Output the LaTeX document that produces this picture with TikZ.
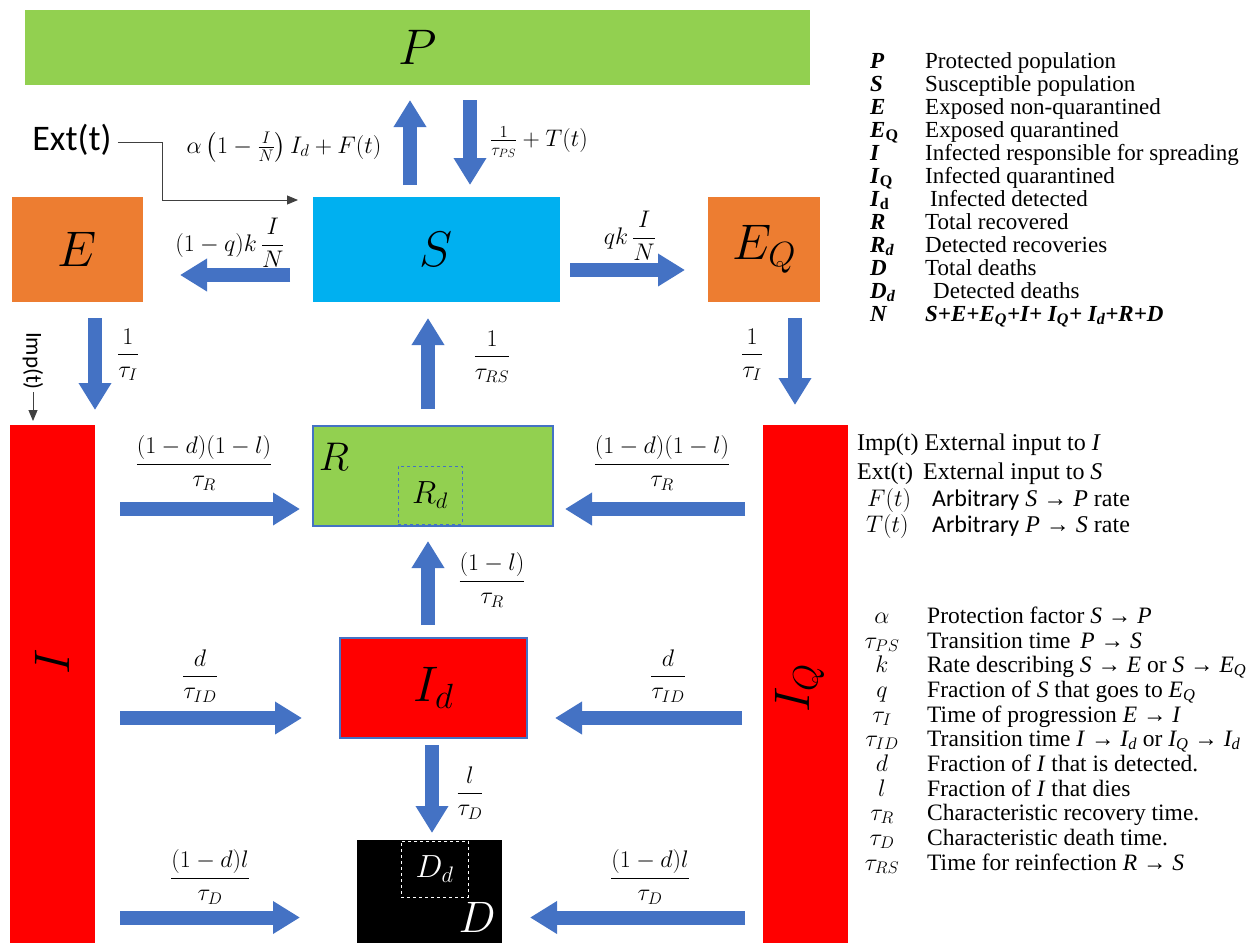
\RequirePackage{fix-cm}
\documentclass[tikz,border=0pt]{standalone}
\usepackage{amsmath}
\usepackage{fontspec}
\setmainfont{Liberation Serif}
\newfontfamily\calibri{Carlito}
\usetikzlibrary{arrows.meta,calc}
\definecolor{pgreen}{HTML}{92D050}
\definecolor{scyan}{HTML}{00B0F0}
\definecolor{eorange}{HTML}{ED7D31}
\definecolor{ired}{HTML}{FF0000}
\definecolor{ablue}{HTML}{4472C4}
\newcommand{\fsz}[1]{\fontsize{#1}{#1}\selectfont}
\newcommand{\ar}{→}
\begin{document}
\begin{tikzpicture}[x=1pt,y=-1pt,
  comp/.style={inner sep=0pt, outer sep=0pt, anchor=center},
  flow/.style={draw=ablue, line width=14pt, -{Triangle[width=31pt,length=27pt]}},
  rate/.style={inner sep=0pt, font=\fsz{24}},
  leg/.style={anchor=base west, inner sep=0pt, font=\fsz{23}},
  legb/.style={anchor=base west, inner sep=0pt, font=\fsz{24}},
  legd/.style={anchor=base west, inner sep=0pt, font=\fsz{23.5}},
  legc/.style={anchor=base, inner sep=0pt, font=\fsz{24}},
  thinarrow/.style={draw=black!75, line width=0.9pt, -{Triangle[width=9pt,length=11pt]}}
]
\path[use as bounding box] (0,0) rectangle (1251,943);

% compartments
\node[comp, fill=pgreen, minimum width=785pt, minimum height=75pt, font=\fsz{50}] (P) at (417.5,47.5) {$P$};
\node[comp, fill=scyan, minimum width=247pt, minimum height=105pt, font=\fsz{50}] (S) at (436.5,249.5) {$S$};
\node[comp, fill=eorange, minimum width=131pt, minimum height=105pt, font=\fsz{50}] (E) at (77.5,249.5) {$E$};
\node[comp, fill=eorange, minimum width=112pt, minimum height=105pt, font=\fsz{50}] (EQ) at (764,249.5) {$E_Q$};
\node[comp, fill=ired, minimum width=85pt, minimum height=518pt] (I) at (52.5,684) {};
\node[rotate=90, inner sep=0pt, font=\fsz{50}] (Ilab) at (52.5,662) {$I$};
\node[comp, fill=ired, minimum width=85pt, minimum height=518pt] (IQ) at (805.5,684) {};
\node[rotate=90, inner sep=0pt, font=\fsz{50}] (IQlab) at (800,688) {$I_Q$};
\node[comp, fill=pgreen, draw=ablue, line width=1.2pt, minimum width=240pt, minimum height=100pt] (R) at (433,476) {};
\node[inner sep=0pt, font=\fsz{40}] (Rlab) at (334,457) {$R$};
\node[draw=ablue, dashed, line width=1pt, minimum width=64pt, minimum height=58pt, inner sep=0pt, font=\fsz{32}] (Rd) at (430,495) {$R_d$};
\node[comp, fill=ired, draw=ablue, line width=1.2pt, minimum width=187pt, minimum height=100pt, font=\fsz{50}] (Id) at (433.5,688) {$I_d$};
\node[comp, fill=black, minimum width=145pt, minimum height=103pt] (D) at (429.5,891.5) {};
\node[draw=white, dashed, line width=1pt, minimum width=67pt, minimum height=56pt, inner sep=0pt, text=white, font=\fsz{32}] (Dd) at (434.5,869) {$D_d$};
\node[inner sep=0pt, text=white, font=\fsz{44}] (Dlab) at (477,917) {$D$};

% external inputs
\node[inner sep=0pt, font=\calibri\fsz{36}] (Ext) at (72,140) {Ext(t)};
\coordinate (extc) at (162,200);
\draw[thinarrow] ($(Ext.east)+(6,2)$) -| (extc) -- ($(S.north west |- extc)+(-15,0)$);
\node[rotate=-90, inner sep=0pt, font=\calibri\fsz{23}] (Imp) at (33,361) {Imp(t)};
\draw[thinarrow, shorten <=2pt, shorten >=4pt] (Imp.east) -- (Imp.east |- I.north);

% flows
\draw[flow, shorten <=12pt, shorten >=15pt] ($(S.north)+(-26.5,0)$) -- ($(S.north |- P.south)+(-26.5,0)$);
\draw[flow, shorten <=15pt, shorten >=12pt] ($(S.north |- P.south)+(33.5,0)$) -- ($(S.north)+(33.5,0)$);
\draw[flow, shorten <=23pt, shorten >=37pt] ($(S.west)+(0,25.5)$) -- ($(S.west -| E.east)+(0,25.5)$);
\draw[flow, shorten <=10pt, shorten >=23pt] ($(S.east)+(0,20.5)$) -- ($(S.east -| EQ.west)+(0,20.5)$);
\draw[flow, shorten <=16pt, shorten >=15pt] ($(E.south)+(17.5,0)$) -- ($(E.south |- I.north)+(17.5,0)$);
\draw[flow, shorten <=16pt, shorten >=20pt] ($(EQ.south)+(31,0)$) -- ($(EQ.south |- IQ.north)+(31,0)$);
\draw[flow, shorten <=17pt, shorten >=16pt] ($(R.north)+(-5,0)$) -- ($(R.north |- S.south)+(-5,0)$);
\draw[flow, shorten <=25pt, shorten >=13pt] ($(R.west -| I.east)+(0,33)$) -- ($(R.west)+(0,33)$);
\draw[flow, shorten <=18pt, shorten >=12pt] ($(R.east -| IQ.west)+(0,33)$) -- ($(R.east)+(0,33)$);
\draw[flow, shorten <=13pt, shorten >=15pt] ($(Id.north)+(-5.5,0)$) -- ($(Id.north |- R.south)+(-5.5,0)$);
\draw[flow, shorten <=25pt, shorten >=38pt] ($(Id.west -| I.east)+(0,30)$) -- ($(Id.west)+(0,30)$);
\draw[flow, shorten <=21pt, shorten >=28pt] ($(Id.east -| IQ.west)+(0,30)$) -- ($(Id.east)+(0,30)$);
\draw[flow, shorten <=7pt, shorten >=7pt] ($(Id.south)+(-1.5,0)$) -- ($(Id.south |- D.north)+(-1.5,0)$);
\draw[flow, shorten <=25pt, shorten >=57pt] ($(D.west -| I.east)+(0,26)$) -- ($(D.west)+(0,26)$);
\draw[flow, shorten <=18pt, shorten >=28pt] ($(D.east -| IQ.west)+(0,26)$) -- ($(D.east)+(0,26)$);

% rates
\node[rate] (rSP) at (284,147) {$\alpha\left(1-\frac{I}{N}\right)I_d+F(t)$};
\node[rate, anchor=west] (rPS) at (490,142) {$\frac{1}{\tau_{PS}}+T(t)$};
\node[rate] (rSE) at (230,243) {$(1-q)k\,\dfrac{I}{N}$};
\node[rate] (rSEQ) at (630,236) {$qk\,\dfrac{I}{N}$};
\node[rate] (rEI) at (128,355) {$\dfrac{1}{\tau_I}$};
\node[rate] (rEQIQ) at (752,355) {$\dfrac{1}{\tau_I}$};
\node[rate] (rRS) at (492,357) {$\dfrac{1}{\tau_{RS}}$};
\node[rate] (rIR) at (204,463) {$\dfrac{(1-d)(1-l)}{\tau_R}$};
\node[rate] (rIQR) at (662,463) {$\dfrac{(1-d)(1-l)}{\tau_R}$};
\node[rate] (rIdR) at (492,580) {$\dfrac{(1-l)}{\tau_R}$};
\node[rate] (rIId) at (200,676) {$\dfrac{d}{\tau_{ID}}$};
\node[rate] (rIQId) at (668,676) {$\dfrac{d}{\tau_{ID}}$};
\node[rate] (rIdD) at (470,793) {$\dfrac{l}{\tau_D}$};
\node[rate] (rID) at (210,877) {$\dfrac{(1-d)l}{\tau_D}$};
\node[rate] (rIQD) at (650,877) {$\dfrac{(1-d)l}{\tau_D}$};

% legend block 1
\node[leg] (s1) at (870,68) {\textbf{\textit{P}}};
\node[leg] (t1) at (925,68) {Protected population};
\node[leg] (s2) at (870,91) {\textbf{\textit{S}}};
\node[leg] (t2) at (925,91) {Susceptible population};
\node[leg] (s3) at (870,114) {\textbf{\textit{E}}};
\node[leg] (t3) at (925,114) {Exposed non-quarantined};
\node[leg] (s4) at (870,137) {\textbf{\textit{E}\textsubscript{Q}}};
\node[leg] (t4) at (925,137) {Exposed quarantined};
\node[leg] (s5) at (870,160) {\textbf{\textit{I}}};
\node[leg] (t5) at (925,160) {Infected responsible for spreading};
\node[leg] (s6) at (870,183) {\textbf{\textit{I}\textsubscript{Q}}};
\node[leg] (t6) at (925,183) {Infected quarantined};
\node[leg] (s7) at (870,206) {\textbf{\textit{I}\textsubscript{d}}};
\node[leg] (t7) at (930,206) {Infected detected};
\node[leg] (s8) at (870,229) {\textbf{\textit{R}}};
\node[leg] (t8) at (925,229) {Total recovered};
\node[leg] (s9) at (870,252) {\textbf{\textit{R\textsubscript{d}}}};
\node[leg] (t9) at (925,252) {Detected recoveries};
\node[leg] (s10) at (870,275) {\textbf{\textit{D}}};
\node[leg] (t10) at (925,275) {Total deaths};
\node[leg] (s11) at (870,298) {\textbf{\textit{D\textsubscript{d}}}};
\node[leg] (t11) at (933,298) {Detected deaths};
\node[leg] (s12) at (870,321) {\textbf{\textit{N}}};
\node[leg] (t12) at (925,321) {\textbf{\textit{S+E+E\textsubscript{Q}+I+ I\textsubscript{Q}+ I\textsubscript{d}+R+D}}};

% legend block 2
\node[legb] (u1) at (857,450) {Imp(t) External input to \textit{I}};
\node[legb] (u2) at (857,479) {Ext(t)\, External input to \textit{S}};
\node[legb] (u3s) at (867,506) {$F(t)$};
\node[legb] (u3t) at (932,506) {{\calibri Arbitrary} \textit{S} \ar{} \textit{P} rate};
\node[legb] (u4s) at (866,532) {$T(t)$};
\node[legb] (u4t) at (932,532) {{\calibri Arbitrary} \textit{P} \ar{} \textit{S} rate};

% legend block 3
\node[legc] (v1s) at (882,623) {$\alpha$};
\node[legd] (v1t) at (927,623) {Protection factor \textit{S} \ar{} \textit{P}};
\node[legc] (v2s) at (882,648) {$\tau_{PS}$};
\node[legd] (v2t) at (927,648) {Transition time\, \textit{P} \ar{} \textit{S}};
\node[legc] (v3s) at (882,672) {$k$};
\node[legd] (v3t) at (927,672) {Rate describing \textit{S} \ar{} \textit{E} or \textit{S} \ar{} \textit{E\textsubscript{Q}}};
\node[legc] (v4s) at (882,697) {$q$};
\node[legd] (v4t) at (927,697) {Fraction of \textit{S} that goes to \textit{E\textsubscript{Q}}};
\node[legc] (v5s) at (882,722) {$\tau_I$};
\node[legd] (v5t) at (927,722) {Time of progression \textit{E} \ar{} \textit{I}};
\node[legc] (v6s) at (882,746) {$\tau_{ID}$};
\node[legd] (v6t) at (927,746) {Transition time \textit{I} \ar{} \textit{I\textsubscript{d}} or \textit{I\textsubscript{Q}} \ar{} \textit{I\textsubscript{d}}};
\node[legc] (v7s) at (882,771) {$d$};
\node[legd] (v7t) at (927,771) {Fraction of \textit{I} that is detected.};
\node[legc] (v8s) at (882,796) {$l$};
\node[legd] (v8t) at (927,796) {Fraction of \textit{I} that dies};
\node[legc] (v9s) at (882,820) {$\tau_R$};
\node[legd] (v9t) at (927,820) {Characteristic recovery time.};
\node[legc] (v10s) at (882,845) {$\tau_D$};
\node[legd] (v10t) at (927,845) {Characteristic death time.};
\node[legc] (v11s) at (882,870) {$\tau_{RS}$};
\node[legd] (v11t) at (927,870) {Time for reinfection \textit{R} \ar{} \textit{S}};
\end{tikzpicture}
\end{document}
